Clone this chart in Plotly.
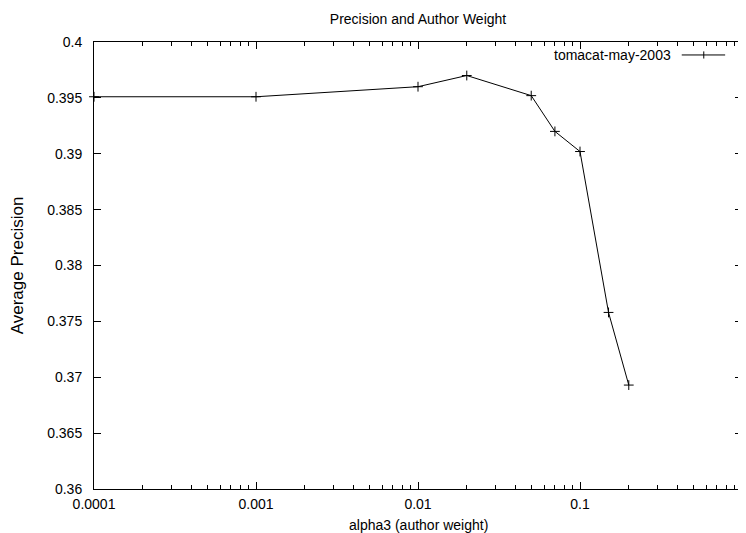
import plotly.graph_objects as go

alpha3 = [0.0001, 0.001, 0.01, 0.02, 0.05, 0.07, 0.1, 0.15, 0.2]
avg_precision = [0.3951, 0.3951, 0.3960, 0.3970, 0.3952, 0.3920, 0.3902, 0.3758, 0.3693]
series_name = "tomacat-may-2003"

x_tickvals = [0.0001, 0.001, 0.01, 0.1, 1]
x_ticktext = ["0.0001", "0.001", "0.01", "0.1", "1"]
y_tickvals = [0.36, 0.365, 0.37, 0.375, 0.38, 0.385, 0.39, 0.395, 0.4]
y_ticktext = ["0.36", "0.365", "0.37", "0.375", "0.38", "0.385", "0.39", "0.395", "0.4"]

font = "Liberation Sans, Arial, sans-serif"

# the page body adds an 8px margin; size the figure so it fits the 746x533 window
fig = go.Figure()
fig.add_trace(go.Scatter(
    x=alpha3, y=avg_precision, mode="lines+markers", name=series_name,
    line=dict(color="black", width=1),
    marker=dict(symbol="cross-thin", size=7, line=dict(color="black", width=1)),
    showlegend=False, cliponaxis=False,
))

fig.update_layout(
    width=738, height=525,
    margin=dict(l=86, r=4, t=34, b=44),
    paper_bgcolor="white", plot_bgcolor="white",
    font=dict(family=font, size=14, color="black"),
    title=dict(text="Precision and Author Weight", xref="paper", x=0.5, xanchor="center",
               y=1 - 11 / 525, yanchor="middle", font=dict(size=14)),
)
fig.update_xaxes(
    type="log", range=[-4, 0],
    tickvals=x_tickvals, ticktext=x_ticktext,
    ticks="inside", ticklen=7, tickwidth=1, tickcolor="black",
    ticklabelstandoff=2,
    showline=True, linecolor="black", linewidth=1, mirror="ticks",
    showgrid=False, zeroline=False,
    minor=dict(ticks="inside", ticklen=4, tickcolor="black", dtick="D1", showgrid=False),
)
fig.update_yaxes(
    range=[0.36, 0.4],
    tickvals=y_tickvals, ticktext=y_ticktext,
    ticks="inside", ticklen=7, tickwidth=1, tickcolor="black",
    ticklabelstandoff=8,
    showline=True, linecolor="black", linewidth=1, mirror="ticks",
    showgrid=False, zeroline=False,
    title=dict(text="Average Precision", standoff=22),
)

# x-axis title placed just above the bottom edge, as in the reference
fig.add_annotation(xref="paper", yref="paper", x=0.5, y=-0.08, xanchor="center",
                   yanchor="middle", text="alpha3 (author weight)", showarrow=False,
                   font=dict(size=14, family=font))

# gnuplot-style legend: text, then sample line with marker, top right
fig.add_annotation(xref="paper", yref="paper", x=0.8935, y=0.971, xanchor="right",
                   yanchor="middle", text=series_name, showarrow=False,
                   font=dict(size=14, family=font))
fig.add_shape(type="line", xref="paper", yref="paper", x0=0.907, x1=0.974,
              y0=0.971, y1=0.971, line=dict(color="black", width=1))
fig.add_shape(type="line", xref="paper", yref="paper", x0=0.941, x1=0.941,
              y0=0.963, y1=0.979, line=dict(color="black", width=1))

fig.write_html("out.html")
